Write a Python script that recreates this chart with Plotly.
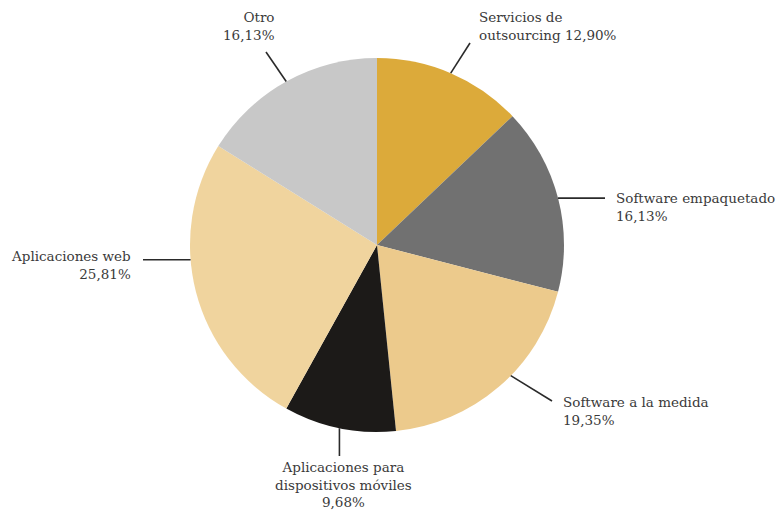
import math
import plotly.graph_objects as go

# Distribution of company activity (percent)
categories = [
    "Servicios de outsourcing",
    "Software empaquetado",
    "Software a la medida",
    "Aplicaciones para dispositivos móviles",
    "Aplicaciones web",
    "Otro",
]
values = [12.90, 16.13, 19.35, 9.68, 25.81, 16.13]
label_texts = [
    "Servicios de<br>outsourcing 12,90%",
    "Software empaquetado<br>16,13%",
    "Software a la medida<br>19,35%",
    "Aplicaciones para<br>dispositivos móviles<br>9,68%",
    "Aplicaciones web<br>25,81%",
    "Otro<br>16,13%",
]
colors = ["#dcaa3a", "#717171", "#ecca8c", "#1c1a18", "#f0d49e", "#c8c8c8"]

W, H = 782, 515
CX, CY, R = 377, 245, 187  # pie centre and radius in pixels

# label placement: (anchor px x, px y, xanchor, yanchor, align, leader end x, y, angle tweak)
label_layout = [
    dict(x=477, y=7, xa="left", ya="top", al="left", ex=470, ey=43, tweak=0),
    dict(x=614, y=188, xa="left", ya="top", al="left", ex=605, ey=None, tweak=0),
    dict(x=561, y=392, xa="left", ya="top", al="left", ex=552, ey=401, tweak=-5),
    dict(x=343, y=457, xa="center", ya="top", al="center", ex=None, ey=456, tweak=0),
    dict(x=133, y=246, xa="right", ya="top", al="right", ex=143, ey=None, tweak=10),
    dict(x=277, y=7, xa="right", ya="top", al="right", ex=266, ey=52, tweak=0),
]


def px(x):
    return x / W


def py(y):
    return 1 - y / H


fig = go.Figure(
    go.Pie(
        labels=categories,
        values=values,
        sort=False,
        direction="clockwise",
        rotation=0,
        textinfo="none",
        hoverinfo="label+percent",
        marker=dict(colors=colors, line=dict(width=0)),
        domain=dict(x=[px(CX - R), px(CX + R)], y=[py(CY + R), py(CY - R)]),
        showlegend=False,
    )
)

total = sum(values)
cum = 0.0
shapes = []
annotations = []
for v, txt, lay in zip(values, label_texts, label_layout):
    mid = (cum + v / 2) / total * 360 + lay["tweak"]
    cum += v
    a = math.radians(mid)
    sx = CX + R * math.sin(a)
    sy = CY - R * math.cos(a)
    ex = lay["ex"] if lay["ex"] is not None else sx
    ey = lay["ey"] if lay["ey"] is not None else sy
    shapes.append(
        dict(
            type="line",
            xref="paper",
            yref="paper",
            x0=px(sx),
            y0=py(sy),
            x1=px(ex),
            y1=py(ey),
            line=dict(color="#2a2a2a", width=1.6),
        )
    )
    annotations.append(
        dict(
            text=txt,
            xref="paper",
            yref="paper",
            x=px(lay["x"]),
            y=py(lay["y"]),
            xanchor=lay["xa"],
            yanchor=lay["ya"],
            align=lay["al"],
            showarrow=False,
            font=dict(family="DejaVu Serif", size=13.5, color="#3a3a3a"),
        )
    )

fig.update_layout(
    width=W,
    height=H,
    margin=dict(l=0, r=0, t=0, b=0),
    paper_bgcolor="white",
    plot_bgcolor="white",
    shapes=shapes,
    annotations=annotations,
)

fig.write_html("out.html")
